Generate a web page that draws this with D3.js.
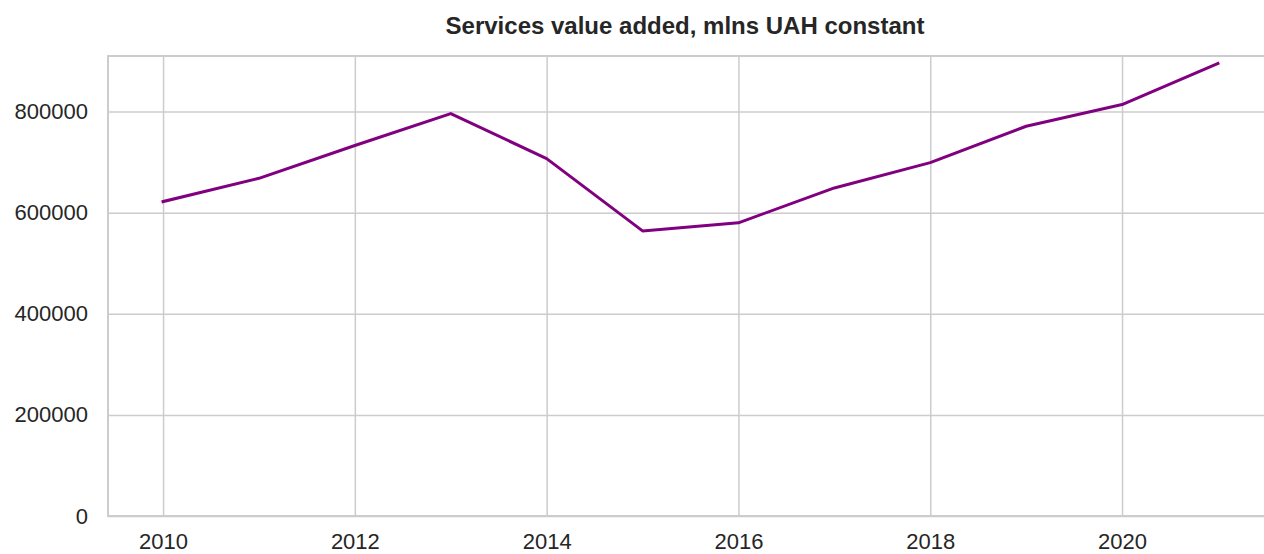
<!DOCTYPE html>
<html>
<head>
<meta charset="utf-8">
<script src="https://cdn.jsdelivr.net/npm/d3@7"></script>
<style>
  body { margin: 0; background: #fff; overflow: hidden; }
  svg { display: block; }
  text { font-family: "Liberation Sans", Arial, sans-serif; }
</style>
</head>
<body>
<div id="chart"></div>
<script>
// dati
var years = [2010, 2011, 2012, 2013, 2014, 2015, 2016, 2017, 2018, 2019, 2020, 2021];
var servicesValue = [622000, 668000, 733000, 796000, 707000, 564000, 580000, 649000, 699000, 771000, 814000, 895000];
var yTicks = [0, 200000, 400000, 600000, 800000];
var xTicks = [2010, 2012, 2014, 2016, 2018, 2020];
var chartTitle = "Services value added, mlns UAH constant";

// margini e dimensioni
var W = 1264, H = 554;
var margin = {top: 56, left: 108, right: -9, bottom: 38};
var width = W - margin.left - margin.right,
    height = H - margin.top - margin.bottom;

var svg = d3.select("#chart")
  .append("svg")
    .attr("width", W)
    .attr("height", H);

var g = svg.append("g")
  .attr("transform", "translate(" + margin.left + "," + margin.top + ")");

// scale
var pad = 0.574;
var x = d3.scaleLinear()
  .domain([d3.min(years) - pad, d3.max(years) + pad])
  .range([0, width]);

var y = d3.scaleLinear()
  .domain([0, 910000])
  .range([height, 0]);

var gridColor = "#cccccc";

// griglia verticale
g.append("g")
  .attr("transform", "translate(0," + height + ")")
  .call(d3.axisBottom(x).tickValues(xTicks).tickSize(-height).tickFormat(""))
  .call(function(a) { a.select(".domain").remove(); })
  .selectAll("line")
    .attr("stroke", gridColor)
    .attr("stroke-width", 1.5);

// griglia orizzontale
g.append("g")
  .call(d3.axisLeft(y).tickValues(yTicks).tickSize(-width).tickFormat(""))
  .call(function(a) { a.select(".domain").remove(); })
  .selectAll("line")
    .attr("stroke", gridColor)
    .attr("stroke-width", 1.5);

// bordi (sinistra, alto, basso)
g.append("path")
  .attr("d", "M" + width + ",0H0V" + height + "H" + width)
  .attr("fill", "none")
  .attr("stroke", gridColor)
  .attr("stroke-width", 2);

// etichette asse X
var xAxis = g.append("g")
  .attr("transform", "translate(0," + height + ")")
  .call(d3.axisBottom(x).tickValues(xTicks).tickSize(0).tickPadding(17).tickFormat(d3.format("d")));
xAxis.select(".domain").remove();
xAxis.selectAll("text")
  .style("font-size", "22px")
  .attr("fill", "#262626");

// etichette asse Y
var yAxis = g.append("g")
  .call(d3.axisLeft(y).tickValues(yTicks).tickSize(0).tickPadding(20).tickFormat(d3.format("d")));
yAxis.select(".domain").remove();
yAxis.selectAll("text")
  .style("font-size", "22px")
  .attr("fill", "#262626");

// linea
var line = d3.line()
  .x(function(d, i) { return x(years[i]); })
  .y(function(d) { return y(d); });

g.append("path")
  .datum(servicesValue)
  .attr("fill", "none")
  .attr("stroke", "#800080")
  .attr("stroke-width", 3)
  .attr("stroke-linejoin", "round")
  .attr("stroke-linecap", "square")
  .attr("d", line);

// titolo
svg.append("text")
  .attr("x", 685)
  .attr("y", 34)
  .attr("text-anchor", "middle")
  .style("font-size", "24px")
  .style("font-weight", "bold")
  .attr("fill", "#262626")
  .text(chartTitle);
</script>
</body>
</html>
